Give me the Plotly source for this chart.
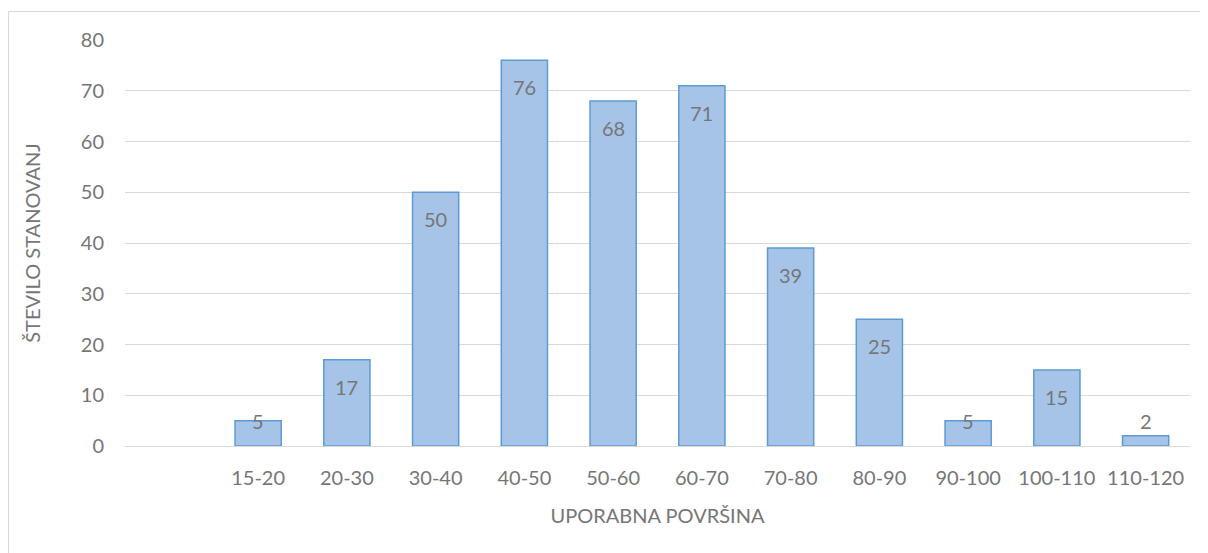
import plotly.graph_objects as go

categories = ["", "15-20", "20-30", "30-40", "40-50", "50-60", "60-70", "70-80", "80-90", "90-100", "100-110", "110-120"]
values = [None, 5, 17, 50, 76, 68, 71, 39, 25, 5, 15, 2]
y_ticks = [0, 10, 20, 30, 40, 50, 60, 70, 80]

W, H = 1208, 553
L, R, T, B = 117, 26, 32, 115
FONT = "Lato"
GRAY = "#767676"
FS = 20

fig = go.Figure()
fig.add_trace(go.Bar(
    x=categories, y=values,
    marker=dict(color="#a6c4e8", line=dict(color="#5b9bd5", width=1.5)),
    hoverinfo="x+y",
))

annotations = []
for c, v in zip(categories, values):
    if v is None:
        continue
    if v >= 10:
        shift = -27
    elif v >= 5:
        shift = 0
    else:
        shift = 15
    annotations.append(dict(x=c, y=v, text=str(v), showarrow=False, yshift=shift,
                            font=dict(family=FONT, size=FS, color=GRAY)))

def px_x(p):
    return (p - L) / (W - L - R)

def px_y(p):
    return 1 - (p - T) / (H - T - B)

border = dict(color="#d9d9d9", width=1)
fig.update_layout(
    width=W, height=H,
    margin=dict(l=L, r=R, t=T, b=B),
    paper_bgcolor="white", plot_bgcolor="white",
    bargap=0.48,
    showlegend=False,
    font=dict(family=FONT, size=FS, color=GRAY),
    annotations=annotations,
    shapes=[
        dict(type="line", xref="paper", yref="paper",
             x0=px_x(0.5), x1=px_x(1240), y0=px_y(3.5), y1=px_y(3.5),
             line=border, layer="below"),
        dict(type="line", xref="paper", yref="paper",
             x0=px_x(0.5), x1=px_x(0.5), y0=px_y(3.5), y1=px_y(560),
             line=border, layer="below"),
    ],
    xaxis=dict(
        type="category", categoryorder="array", categoryarray=categories,
        showgrid=False, showline=False, zeroline=False,
        ticks="", ticklabelstandoff=18,
        tickfont=dict(family=FONT, size=FS, color=GRAY),
        title=dict(text="UPORABNA POVRŠINA", standoff=20,
                   font=dict(family=FONT, size=FS, color=GRAY)),
    ),
    yaxis=dict(
        range=[0, 80], tickvals=y_ticks,
        showgrid=True, gridcolor="#d9d9d9", gridwidth=1,
        zeroline=True, zerolinecolor="#d9d9d9", zerolinewidth=1,
        showline=False, ticks="", ticklabelstandoff=20,
        tickfont=dict(family=FONT, size=FS, color=GRAY),
        title=dict(text="ŠTEVILO STANOVANJ", standoff=34,
                   font=dict(family=FONT, size=FS, color=GRAY)),
    ),
)

fig.write_html("out.html")
